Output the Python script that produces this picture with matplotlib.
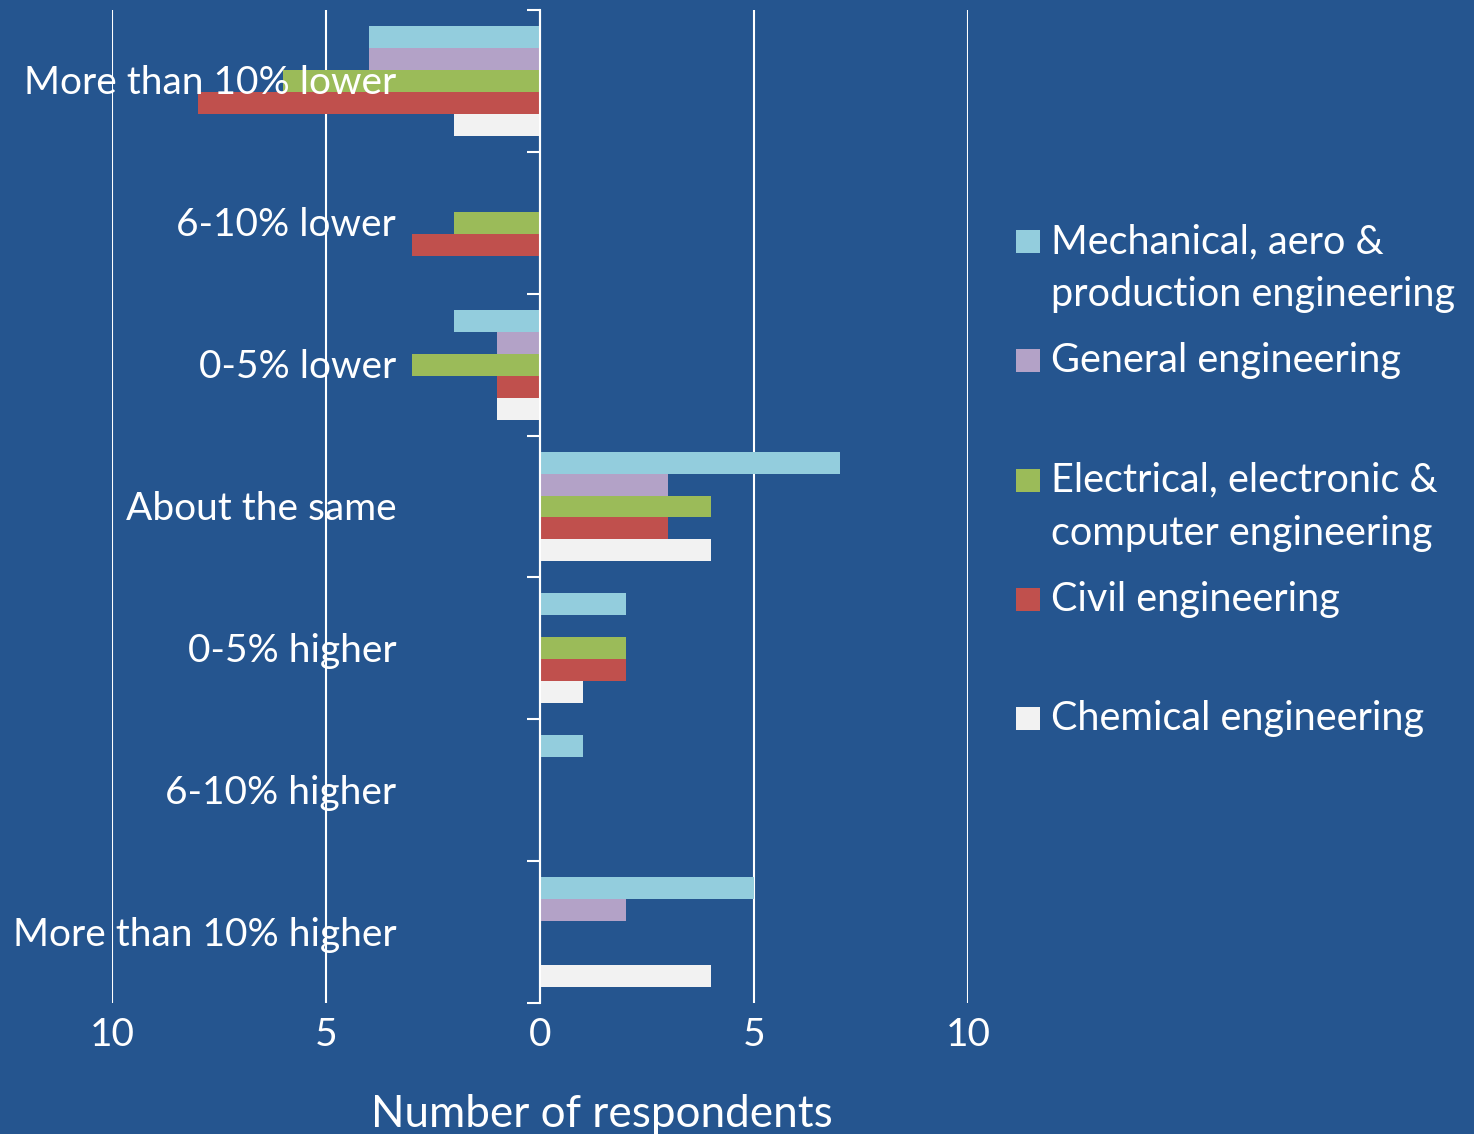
import matplotlib
matplotlib.use('Agg')
import matplotlib.pyplot as plt
import numpy as np
from matplotlib.ticker import FuncFormatter
from matplotlib.patches import Rectangle
from matplotlib.transforms import offset_copy

plt.rcParams['font.family'] = ['Lato', 'DejaVu Sans']

# data (negative = "lower" side)
categories = ['More than 10% lower', '6-10% lower', '0-5% lower', 'About the same',
              '0-5% higher', '6-10% higher', 'More than 10% higher']
mechanical = [-4, 0, -2, 7, 2, 1, 5]
general = [-4, 0, -1, 3, 0, 0, 2]
electrical = [-6, -2, -3, 4, 2, 0, 0]
civil = [-8, -3, -1, 3, 2, 0, 0]
chemical = [-2, 0, -1, 4, 1, 0, 4]

series_names = ['Mechanical, aero &\nproduction engineering', 'General engineering',
                'Electrical, electronic &\ncomputer engineering', 'Civil engineering',
                'Chemical engineering']
series_vals = [mechanical, general, electrical, civil, chemical]
colors = ['#93CDDD', '#B3A2C7', '#9BBB59', '#C0504D', '#F2F2F2']
bg = '#25558F'
W, H = 1474, 1134

fig = plt.figure(figsize=(14.74, 11.34), dpi=100)
fig.patch.set_facecolor(bg)
ax = fig.add_axes([112/W, 1 - 1003/H, 856/W, 993/H])
ax.set_facecolor(bg)

y = np.arange(len(categories))
h = 0.155
for i, (vals, c) in enumerate(zip(series_vals, colors)):
    ax.barh(y + (i - 2) * h, vals, height=h, color=c, zorder=3)

ax.set_xlim(-10, 10)
ax.set_ylim(len(categories) - 0.5, -0.5)
ax.set_xticks([-10, -5, 0, 5, 10])
ax.xaxis.set_major_formatter(FuncFormatter(lambda v, p: '%d' % abs(v)))
ax.tick_params(axis='x', length=0, pad=10, labelsize=28, labelcolor='white')
ax.set_axisbelow(True)
ax.grid(axis='x', color='white', linewidth=1.5)

for s in ['top', 'right', 'bottom']:
    ax.spines[s].set_visible(False)
ax.spines['left'].set_position(('data', 0))
ax.spines['left'].set_color('white')
ax.spines['left'].set_linewidth(1.5)
ax.spines['left'].set_zorder(4)

# category labels sit on top of the bars
ax.set_yticks(y)
ax.set_yticklabels([])
ax.set_yticks(np.arange(len(categories) + 1) - 0.5, minor=True)
ax.tick_params(axis='y', which='major', length=0)
ax.tick_params(axis='y', which='minor', length=9.5, width=1.5, color='white', direction='out')
lab_tr = offset_copy(ax.get_yaxis_transform(), fig=fig, x=0, y=-2.5, units='dots')
for yi, cat in zip(y, categories):
    ax.text(0.332, yi, cat, transform=lab_tr, ha='right', va='center',
            fontsize=28, color='white', zorder=6)

fig.text(602 / W, 1 - 1127 / H, 'Number of respondents', fontsize=31.7, color='white',
         ha='center', va='baseline')

# legend drawn by hand: evenly spaced entries
for i, (name, c) in enumerate(zip(series_names, colors)):
    base = 253 + i * 119.25
    fig.add_artist(Rectangle((1016 / W, 1 - base / H), 24 / W, 23 / H,
                             transform=fig.transFigure, facecolor=c, edgecolor='none'))
    lines = name.split('\n')
    for k, line in enumerate(lines):
        fig.text(1051 / W, 1 - (base + k * 53) / H, line, fontsize=28.5, color='white',
                 va='baseline', ha='left')

fig.savefig('out.png', dpi=100, facecolor=bg)
